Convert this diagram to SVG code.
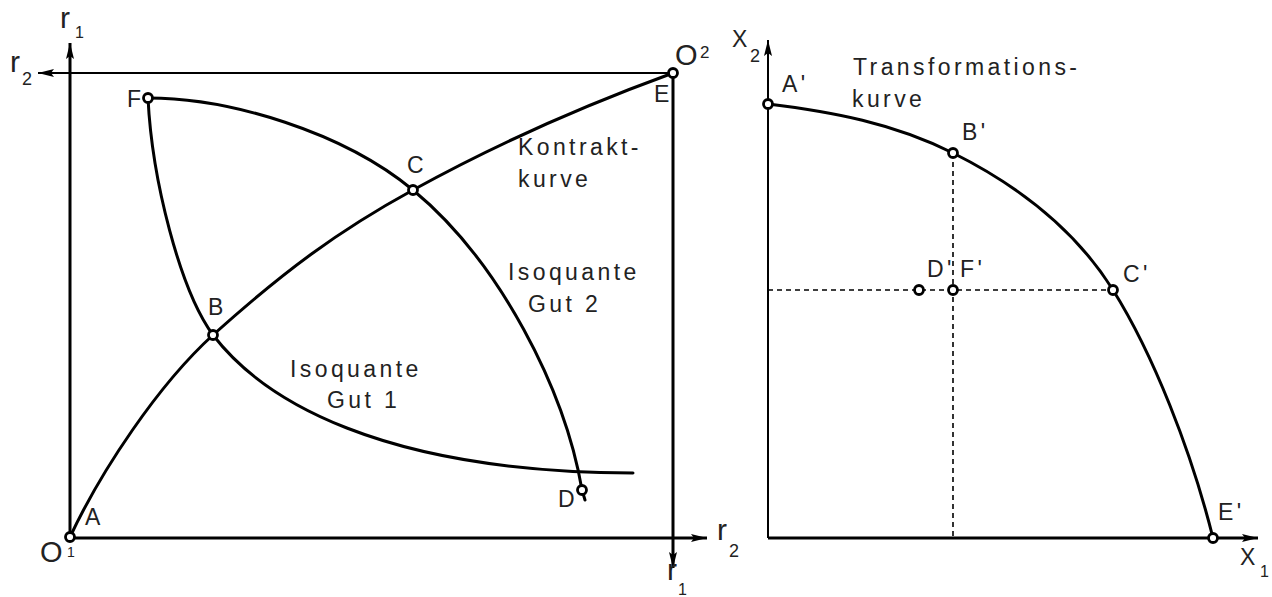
<svg xmlns="http://www.w3.org/2000/svg" width="1272" height="597" viewBox="0 0 1272 597">
<style>
text{font-family:"Liberation Sans",Arial,sans-serif;fill:#222;font-size:23px;letter-spacing:3.4px}
.sm{font-size:16px;letter-spacing:0}
.r{font-size:30px;letter-spacing:0}
.ax{stroke:#000;fill:none;stroke-width:3}
.ax2{stroke:#000;fill:none;stroke-width:2}
.cv{stroke:#000;fill:none;stroke-width:3;stroke-linecap:round}
.ds{stroke:#000;fill:none;stroke-width:1.6;stroke-dasharray:5 4}
.pt{fill:#fff;stroke:#000;stroke-width:2.8}
</style>
<defs>
<marker id="ah" viewBox="0 0 16 10" refX="16" refY="5" markerWidth="16" markerHeight="10" markerUnits="userSpaceOnUse" orient="auto">
<path d="M0,1 L16,5 L0,9 L3,5 z" fill="#000"/>
</marker>
</defs>
<rect width="1272" height="597" fill="#fff"/>

<g id="connectors">
<line class="ax" x1="70" y1="538" x2="70" y2="43" marker-end="url(#ah)"/>
<line class="ax2" x1="673" y1="73" x2="38" y2="73" marker-end="url(#ah)"/>
<line class="ax" x1="70" y1="538" x2="707" y2="538" marker-end="url(#ah)"/>
<line class="ax" x1="673" y1="73" x2="673" y2="568" marker-end="url(#ah)"/>
<path class="cv" d="M70,537 C101,471 158,385 213,335 C283,272 338,231 413,190 C498,143 588,104 673,73"/>
<path class="cv" d="M148,98 C152,180 180,290 213,335 C263,400 380,472 633,473"/>
<path class="cv" d="M148,98 C230,98 343,132 413,190 C500,262 565,390 582,490 L585,500"/>
<line class="ax2" x1="768" y1="538" x2="768" y2="40" marker-end="url(#ah)"/>
<line class="ax" x1="768" y1="538" x2="1258" y2="538" marker-end="url(#ah)"/>
<path class="cv" d="M768,104 C833,112 893,123 953,153 C1013,183 1073,226 1113,290 C1153,354 1191,450 1213,538"/>
<line class="ds" x1="768" y1="290" x2="1113" y2="290"/>
<line class="ds" x1="953" y1="153" x2="953" y2="538"/>
</g>

<g id="axis-labels">
<text class="r" x="60" y="28">r</text><text class="sm" x="75" y="38">1</text>
<text class="r" x="10" y="72">r</text><text class="sm" x="22" y="85" style="font-size:18px">2</text>
<text class="r" x="717" y="540">r</text><text class="sm" x="729" y="557" style="font-size:18px">2</text>
<text class="r" x="667" y="580">r</text><text class="sm" x="678" y="595">1</text>
<text x="732" y="47" style="letter-spacing:0">X</text><text class="sm" x="750" y="62" style="font-size:18px">2</text>
<text x="1240" y="565" style="letter-spacing:0">X</text><text class="sm" x="1260" y="577">1</text>
</g>

<g id="node-O1">
<text x="40" y="562" style="font-size:29px;letter-spacing:0">O</text><text class="sm" x="67" y="557" style="font-size:14px">1</text>
</g>
<g id="node-O2">
<text x="675" y="65" style="font-size:29px;letter-spacing:0">O</text><text class="sm" x="700" y="58" style="font-size:17px">2</text>
</g>

<g id="node-A"><circle class="pt" cx="70" cy="537" r="4.5"/><text x="85" y="525">A</text></g>
<g id="node-B"><circle class="pt" cx="213" cy="335" r="4.5"/><text x="208" y="315">B</text></g>
<g id="node-C"><circle class="pt" cx="413" cy="190" r="4.5"/><text x="407" y="173">C</text></g>
<g id="node-D"><circle class="pt" cx="582" cy="490" r="4.5"/><text x="558" y="507">D</text></g>
<g id="node-E"><circle class="pt" cx="673" cy="73" r="4.5"/><text x="654" y="102">E</text></g>
<g id="node-F"><circle class="pt" cx="148" cy="98" r="4.5"/><text x="127" y="107">F</text></g>

<g id="label-kontrakt"><text x="518" y="155">Kontrakt-</text><text x="518" y="187">kurve</text></g>
<g id="label-gut2"><text x="508" y="280">Isoquante</text><text x="528" y="312">Gut 2</text></g>
<g id="label-gut1"><text x="290" y="377">Isoquante</text><text x="327" y="408">Gut 1</text></g>

<g id="node-A2"><circle class="pt" cx="768" cy="104" r="4.5"/><text x="782" y="92">A'</text></g>
<g id="node-B2"><circle class="pt" cx="953" cy="153" r="4.5"/><text x="962" y="140">B'</text></g>
<g id="node-C2"><circle class="pt" cx="1113" cy="290" r="4.5"/><text x="1123" y="282">C'</text></g>
<g id="node-D2"><circle class="pt" cx="919" cy="290" r="4.5"/><text x="927" y="277">D'</text></g>
<g id="node-F2"><circle class="pt" cx="953" cy="290" r="4.5"/><text x="960" y="277">F'</text></g>
<g id="node-E2"><circle class="pt" cx="1213" cy="538" r="4.5"/><text x="1218" y="520">E'</text></g>

<g id="label-transformation"><text x="853" y="75">Transformations-</text><text x="852" y="107">kurve</text></g>
</svg>
